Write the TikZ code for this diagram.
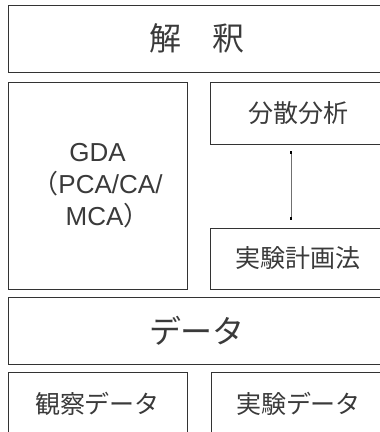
\documentclass[tikz,border=0pt]{standalone}
\usepackage{fontspec}
\setmainfont{Liberation Sans}
\newfontfamily\jp{Noto Sans CJK JP}
\usetikzlibrary{arrows.meta}
\definecolor{linec}{HTML}{333333}
\definecolor{txtc}{HTML}{3A3A3A}
\definecolor{connc}{HTML}{707070}
\tikzset{
  box/.style={draw=linec, line width=0.9pt, rectangle, inner sep=0pt, text=txtc, align=center},
  bigtxt/.style={font=\jp\fontsize{32}{36}\selectfont},
  smalltxt/.style={font=\jp\fontsize{25}{30}\selectfont},
  conn/.style={draw=connc, line width=1pt, {Square[length=2.6pt,width=2.6pt,color=black]}-{Square[length=2.6pt,width=2.6pt,color=black]}}
}
\begin{document}
\begin{tikzpicture}[x=1pt,y=-1pt]
\useasboundingbox (0,0) rectangle (380,432);
\clip (0,0) rectangle (380,432);
\fill[white] (0,0) rectangle (380,432);
\node[box, bigtxt, minimum width=378pt, minimum height=67pt] (interp) at (197,38.5) {解　釈};
\node[box, minimum width=179pt, minimum height=207pt, font=\fontsize{26}{32}\selectfont] (gda) at (97.5,185.5) {GDA\\{\jp （}PCA/CA/\hspace*{10pt}\\MCA{\jp ）}\hspace*{-20pt}};
\node[box, smalltxt, minimum width=176pt, minimum height=62pt] (anova) at (298,113) {分散分析};
\node[box, smalltxt, minimum width=176pt, minimum height=61pt] (doe) at (298,258.5) {実験計画法};
\node[box, bigtxt, minimum width=378pt, minimum height=67pt] (data) at (197,330.5) {データ};
\node[box, smalltxt, minimum width=179pt, minimum height=64pt] (obs) at (97.5,404) {観察データ};
\node[box, smalltxt, minimum width=175pt, minimum height=64pt] (exp) at (298.5,404) {実験データ};
\draw[conn] ([xshift=-7pt,yshift=-7pt]anova.south) -- ([xshift=-7pt,yshift=8pt]doe.north);
\end{tikzpicture}
\end{document}
